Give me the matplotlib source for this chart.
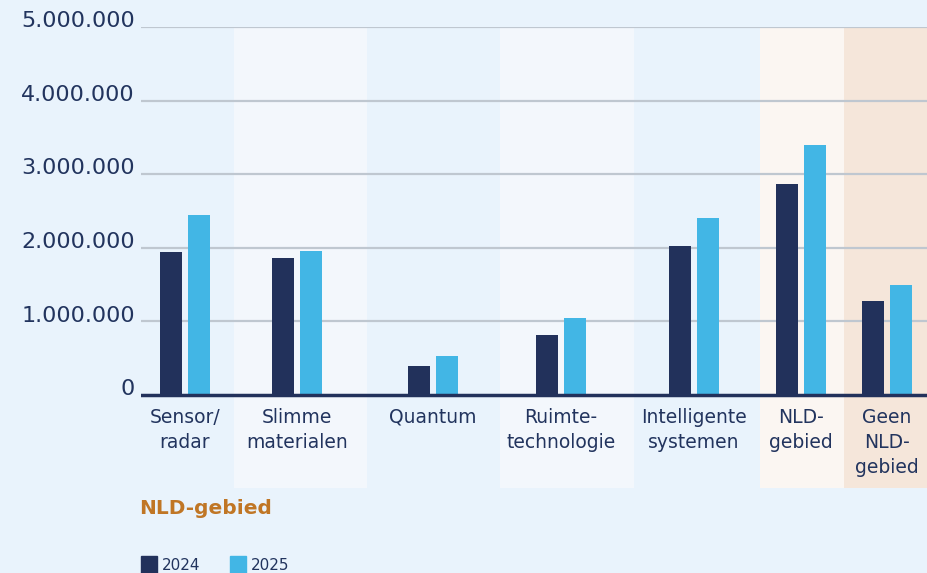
import matplotlib.pyplot as plt
from matplotlib.patches import Rectangle

categories = ['Sensor/\nradar', 'Slimme\nmaterialen', 'Quantum', 'Ruimte-\ntechnologie',
              'Intelligente\nsystemen', 'NLD-\ngebied', 'Geen\nNLD-\ngebied']
v2024 = [1940000, 1860000, 400000, 820000, 2020000, 2870000, 1280000]
v2025 = [2440000, 1960000, 530000, 1050000, 2410000, 3390000, 1500000]
yticks = [0, 1000000, 2000000, 3000000, 4000000, 5000000]
series = ['2024', '2025']

# layout (pixel-ish units from the left of the plot area)
centers = [44, 156, 292, 420, 553, 660, 746]
edges = [0, 93, 226, 359, 493, 619, 703, 787]
band_cols = ['#e9f3fc', '#f3f7fc', '#e9f3fc', '#f3f7fc', '#e9f3fc', '#fbf6f2', '#f5e6da']

navy = '#22315b'
blue = '#42b6e5'
bg = '#e9f3fc'
txt = '#22345e'
plt.rcParams['font.family'] = ['DejaVu Sans']

W, H = 928, 573
fig = plt.figure(figsize=(W / 100, H / 100), dpi=100, facecolor=bg)
# axes from y=27 (5M) down to y=488 px, x from 141 to 928
ax = fig.add_axes([141 / W, (H - 488) / H, (W - 141) / W, (488 - 27) / H])
ax.set_facecolor(bg)
ppm = (395 - 27) / 5.0  # px per million
ybot = -(488 - 395) / ppm * 1e6
ax.set_ylim(ybot, 5000000)
ax.set_xlim(0, 787)
for s in ax.spines.values():
    s.set_visible(False)
ax.set_xticks([])
ax.set_yticks([])

for i in range(len(band_cols)):
    ax.axvspan(edges[i], edges[i + 1], color=band_cols[i], zorder=0, lw=0)

for t in yticks[1:]:
    ax.axhline(t, color='#bfc7d0', lw=1.6, zorder=1)
ax.axhline(0, color=navy, lw=2.5, zorder=3)

bw = 22
ax.bar([c - 14 for c in centers], v2024, width=bw, color=navy, zorder=2, label=series[0])
ax.bar([c + 14 for c in centers], v2025, width=bw, color=blue, zorder=2, label=series[1])

for t in yticks:
    lab = f'{t:,}'.replace(',', '.')
    ax.text(-6, t + 0.08e6, lab, ha='right', va='center', fontsize=16, color=txt)

for c, lab in zip(centers, categories):
    ax.text(c, -0.17e6, lab, ha='center', va='top', fontsize=13.5, color=txt,
            linespacing=1.4)

fig.text(139 / W, 1 - 508 / H, 'NLD-gebied', ha='left', va='center', fontsize=14.5,
         fontweight='bold', color='#c07625')

# legend
for x0, col, lab in [(141, navy, series[0]), (230, blue, series[1])]:
    fig.patches.append(Rectangle((x0 / W, 0), 16 / W, 17 / H, transform=fig.transFigure,
                                 color=col))
    fig.text((x0 + 21) / W, 1 - 565 / H, lab, ha='left', va='center', fontsize=11,
             color=txt)

fig.savefig('out.png', dpi=100, facecolor=bg)
